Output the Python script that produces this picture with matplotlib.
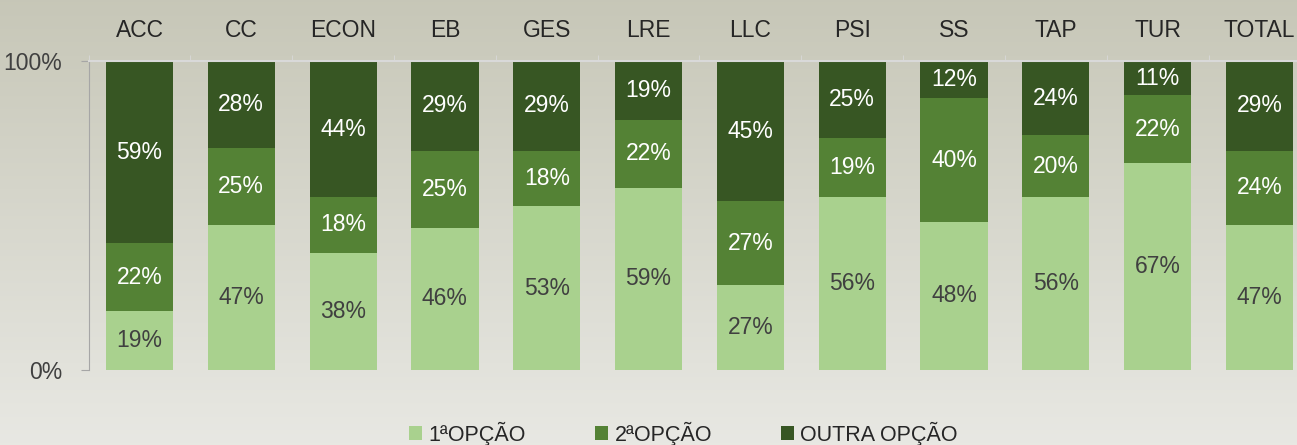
import numpy as np
import matplotlib.pyplot as plt

plt.rcParams['font.family'] = ['Liberation Sans', 'DejaVu Sans']

categories = ['ACC', 'CC', 'ECON', 'EB', 'GES', 'LRE', 'LLC', 'PSI', 'SS', 'TAP', 'TUR', 'TOTAL']
opcao1 = [19, 47, 38, 46, 53, 59, 27.4, 56, 48, 56, 67, 47]
opcao2 = [22, 25, 18, 25, 18, 22, 27.3, 19, 40, 20, 22, 24]
outra = [59, 28, 44, 29, 29, 19, 45.3, 25, 12, 24, 11, 29]
series_names = ['1ªOPÇÃO', '2ªOPÇÃO', 'OUTRA OPÇÃO']
colors = ['#a9d18e', '#548235', '#375623']
text_colors = ['#404040', 'white', 'white']

fig = plt.figure(figsize=(12.97, 4.45), dpi=100)

# background in place of the photo: soft vertical gradient
bg = fig.add_axes([0, 0, 1, 1], zorder=-10)
grad = np.linspace(0, 1, 256).reshape(-1, 1)
top = np.array([0.78, 0.78, 0.72])
bot = np.array([0.91, 0.91, 0.89])
img = top + (bot - top) * grad[:, :, None] * np.ones((1, 1, 3))
bg.imshow(img, aspect='auto', extent=[0, 1, 0, 1])
bg.axis('off')

ax = fig.add_axes([0.0683, 0.1685, 0.942, 0.694])
ax.patch.set_alpha(0)

fs = 16.5
x = np.arange(len(categories))
bottom = np.zeros(len(categories))
for vals, name, c, tc in zip([opcao1, opcao2, outra], series_names, colors, text_colors):
    vals = np.array(vals)
    ax.bar(x, vals, 0.66, bottom=bottom, color=c, label=name)
    for xi, b, v in zip(x, bottom, vals):
        ax.text(xi, b + v / 2, '{:.0f}%'.format(v), ha='center', va='center',
                color=tc, fontsize=fs)
    bottom = bottom + vals

ax.set_xlim(-0.5, len(categories) - 0.5)
ax.set_ylim(0, 100)
ax.set_yticks([0, 100])
ax.set_yticklabels(['0%', '100%'], fontsize=fs, color='#404040')

ax.xaxis.tick_top()
ax.set_xticks(x)
ax.set_xticklabels(categories, fontsize=fs, color='#262626')
ax.set_xticks(np.arange(-0.5, len(categories)), minor=True)
ax.tick_params(axis='x', which='major', length=0, pad=14)
ax.tick_params(axis='x', which='minor', length=4, color='#d9d9d9', direction='out')
ax.tick_params(axis='y', length=6, color='#a6a6a6', pad=13)

for s in ['right', 'bottom']:
    ax.spines[s].set_visible(False)
ax.spines['top'].set_color('#d9d9d9')
ax.spines['top'].set_linewidth(1.5)
ax.spines['left'].set_color('#a6a6a6')

fig.legend(loc='lower center', bbox_to_anchor=(0.527, -0.045), ncol=3, frameon=False,
           fontsize=15.5, handlelength=0.6, handleheight=0.6, handletextpad=0.3,
           columnspacing=3.2, labelcolor='#262626')

plt.savefig('out.png', dpi=100)
